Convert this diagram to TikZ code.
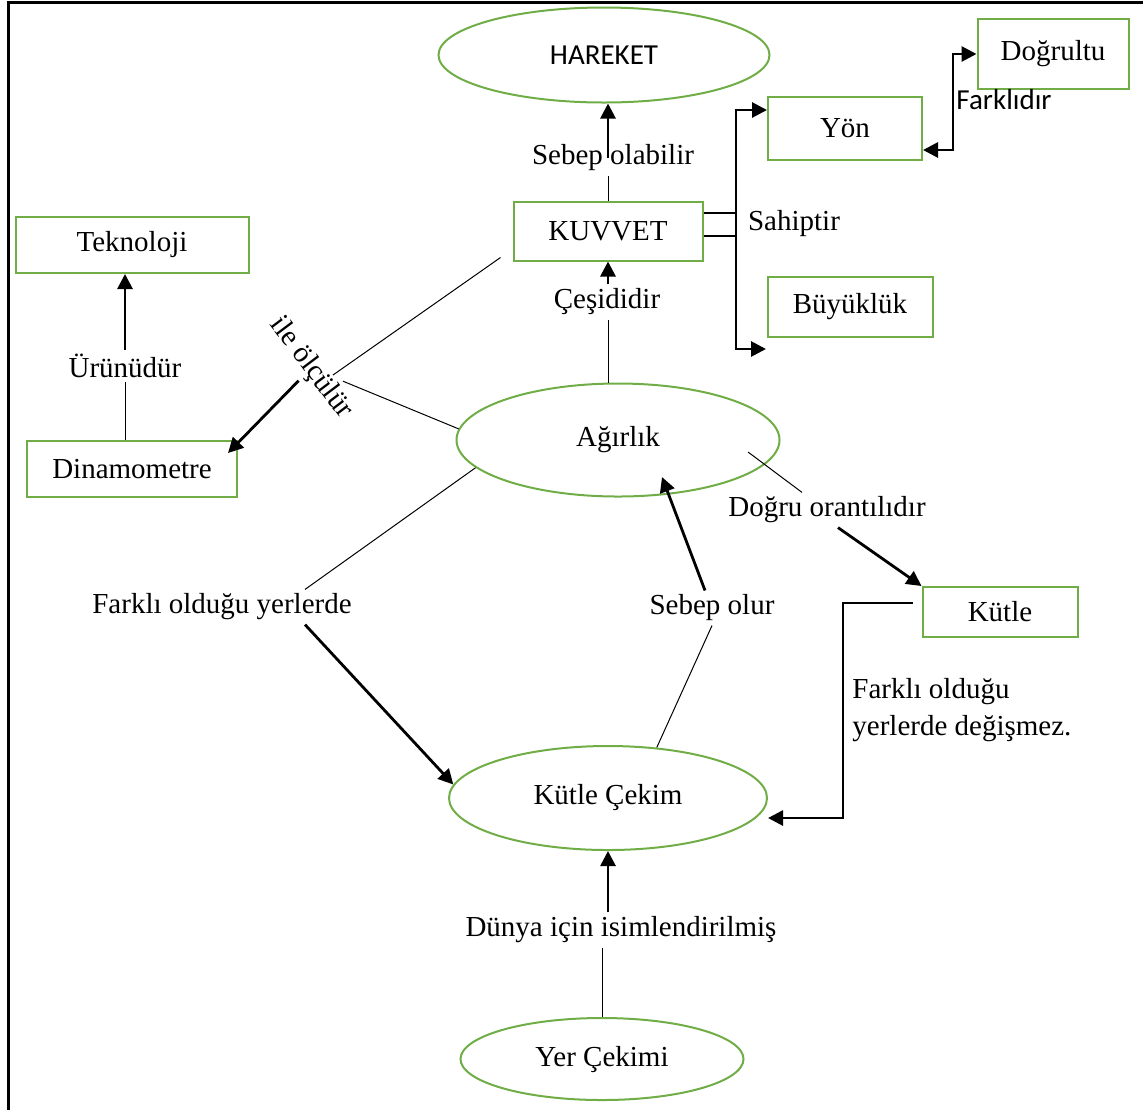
\documentclass[tikz,border=0pt]{standalone}
\usepackage{fontspec}
\setmainfont{Liberation Serif}
\newfontfamily\calibrifont{Carlito}
\usepackage{tikz}
\usetikzlibrary{arrows.meta,calc,positioning,shapes.geometric}
\definecolor{KavramYesil}{HTML}{70AD47}

\begin{document}
\begin{tikzpicture}[x=0.5pt, y=-0.5pt, >={Triangle[length=7.5pt,width=7.5pt]},
    font=\fontsize{14.5}{18.5}\selectfont,
    kutu/.style={draw=KavramYesil, line width=1pt, inner sep=0pt},
    elips/.style={ellipse, draw=KavramYesil, line width=1pt, inner sep=0pt},
    etiket/.style={inner sep=2pt},
    calibri/.style={font=\calibrifont\fontsize{14.5}{18.5}\selectfont},
    ince/.style={line width=0.5pt},
    kalin/.style={line width=1.4pt},
    ok/.style={->, line width=1.4pt}]
    \useasboundingbox (0,0) rectangle (1143,1110);

    % Frame
    \draw[line width=1.5pt] (8,1110) -- (8,2) -- (1143,2);

    % Concepts
    \node[elips, calibri, minimum width=165.5pt, minimum height=47.5pt] (hareket) at (604,55) {HAREKET};
    \node[kutu, minimum width=94.5pt, minimum height=29.5pt] (kuvvet) at (608,231) {KUVVET};
    \node[kutu, minimum width=77pt, minimum height=31.5pt] (yon) at (845,128) {Yön};
    \node[kutu, minimum width=75.5pt, minimum height=35pt] (dogrultu) at (1053,54) {Doğrultu};
    \node[kutu, minimum width=82.5pt, minimum height=30pt] (buyukluk) at (850,307) {Büyüklük};
    \node[kutu, minimum width=116.5pt, minimum height=28pt] (teknoloji) at (132,245) {Teknoloji};
    \node[kutu, minimum width=105pt, minimum height=28pt] (dinamometre) at (132,469) {Dinamometre};
    \node[elips, minimum width=161.5pt, minimum height=56.5pt] (agirlik) at (618,440) {Ağırlık};
    \node[kutu, minimum width=77.5pt, minimum height=25pt] (kutle) at (1000,612) {Kütle};
    \node[elips, minimum width=159pt, minimum height=52pt] (kutlecekim) at (608,798) {Kütle Çekim};
    \node[elips, minimum width=141.5pt, minimum height=41pt] (yercekimi) at (602,1059) {Yer Çekimi};

    % Link words
    \node[etiket] (sebepolabilir) at (613,158) {Sebep olabilir};
    \node[etiket] (cesididir) at (607,302) {Çeşididir};
    \node[etiket] (sahiptir) at (794,224) {Sahiptir};
    \node[etiket, calibri] (farklidir) at (1004,100) {Farklıdır};
    \node[etiket] (urunudur) at (125,366) {Ürünüdür};
    \node[etiket, rotate=-53] (ileolculur) at (311,368) {ile ölçülür};
    \node[etiket] (farkliyer) at (222,607) {Farklı olduğu yerlerde};
    \node[etiket] (sebepolur) at (712,608) {Sebep olur};
    \node[etiket] (dogruorantili) at (827,510) {Doğru orantılıdır};
    \node[etiket, align=left, anchor=west] (degismez) at (848,710) {Farklı olduğu\\yerlerde değişmez.};
    \node[etiket] (dunya) at (621,930) {Dünya için isimlendirilmiş};

    % Kuvvet - Hareket
    \draw[ince] (kuvvet.north) -- (kuvvet.north |- sebepolabilir.south);
    \draw[ok] (kuvvet.north |- sebepolabilir.center) -- (kuvvet.north |- hareket.south);

    % Agirlik - Kuvvet
    \draw[ince] (kuvvet.south |- agirlik.north) -- (kuvvet.south |- cesididir.south);
    \draw[ok] (kuvvet.south |- cesididir.north) -- (kuvvet.south);

    % Sahiptir
    \coordinate (dal) at (736,231);
    \coordinate (kustu) at ([yshift=9pt]kuvvet.east);
    \coordinate (kalti) at ([yshift=-2.5pt]kuvvet.east);
    \coordinate (yonok) at ([yshift=9pt]yon.west);
    \coordinate (altuc) at (766,349);
    \draw[kalin] (kustu) -- (kustu -| dal);
    \draw[kalin] (kalti) -- (kalti -| dal);
    \draw[kalin, <->] (yonok) -- (dal |- yonok) -- (dal |- altuc) -- (altuc);

    % Yon - Dogrultu
    \coordinate (yonsag) at ([yshift=-11pt]yon.east);
    \draw[kalin, <->] (yonsag) -- ++(30,0) |- (dogrultu.west);

    % Dinamometre - Teknoloji
    \draw[ince] (dinamometre.north -| urunudur.south) -- (urunudur.south);
    \draw[ok] (urunudur.north) -- (teknoloji.south -| urunudur.north);

    % ile olculur
    \draw[ince] ([xshift=-6pt,yshift=2pt]kuvvet.south west) -- ($(ileolculur)+(22,7)$);
    \draw[ince] (agirlik.176) -- (ileolculur);
    \draw[ok] (ileolculur) -- ($(dinamometre.north east)+(-10,13)$);

    % Farkli oldugu yerlerde
    \draw[ince] (agirlik.191) -- ([xshift=41.5pt]farkliyer.north);
    \draw[ok] ([xshift=41.5pt]farkliyer.south) -- (kutlecekim.175);

    % Sebep olur
    \draw[ince] (kutlecekim.46) -- (sebepolur.south);
    \draw[ok] ([xshift=-3.5pt]sebepolur.north) -- ($(agirlik)+(44,37)$);

    % Dogru orantilidir
    \draw[ince] ($(agirlik)+(130,12)$) -- ([xshift=-12.5pt]dogruorantili.north);
    \draw[ok] ([xshift=5.5pt]dogruorantili.south) -- (kutle.north west);

    % Kutle - Kutle Cekim
    \coordinate (kutlesol) at ([xshift=-4.5pt,yshift=4.5pt]kutle.west);
    \coordinate (kirik) at (843,818);
    \draw[ok] (kutlesol) -| (kirik) -- (kirik -| kutlecekim.east);

    % Yer Cekimi - Kutle Cekim
    \draw[ince] (yercekimi.north) -- (yercekimi.north |- dunya.south);
    \draw[ok] (kutlecekim.south |- dunya.north) -- (kutlecekim.south);

\end{tikzpicture}
\end{document}
